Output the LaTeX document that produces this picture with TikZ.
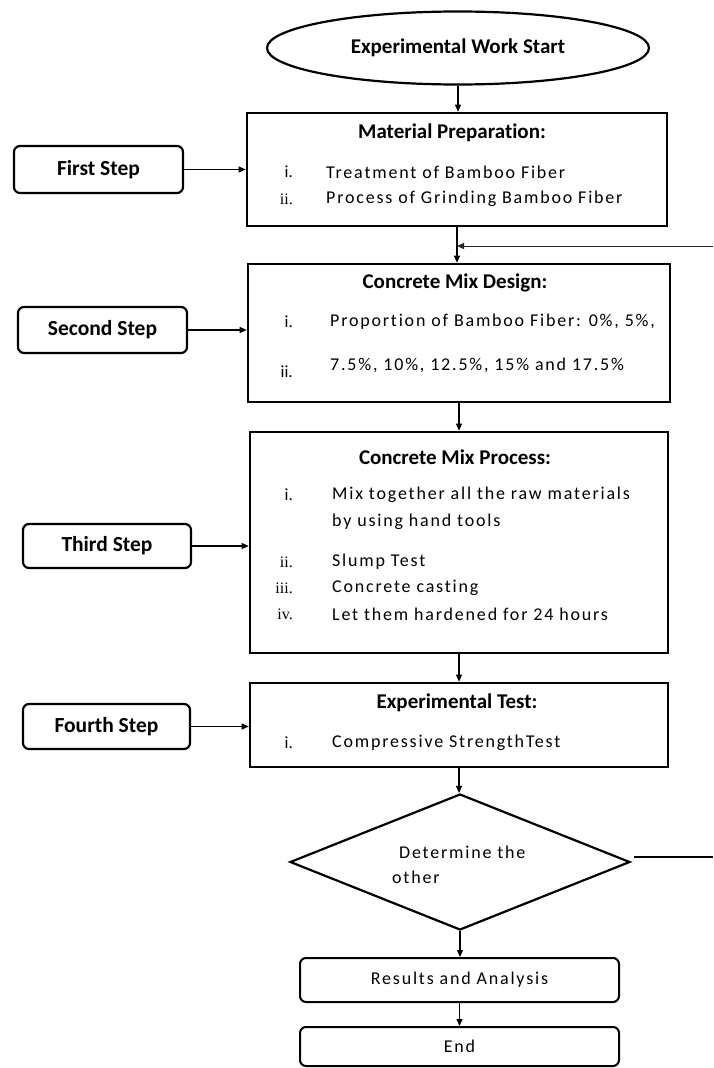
\documentclass[tikz,border=0pt]{standalone}
\usepackage{fontspec}
\setmainfont{Carlito}[Ligatures=NoCommon]
\newfontfamily\bodyfam{Carlito}[LetterSpace=10,Ligatures=NoCommon]
\newfontfamily\numserif{Liberation Serif}
\usetikzlibrary{shapes.geometric,arrows.meta}
\newcommand{\hsz}{\fontsize{21}{24}\selectfont\bfseries}
\newcommand{\ssz}{\fontsize{21.5}{24}\selectfont\bfseries}
\newcommand{\bsz}{\fontsize{18}{21}\bodyfam}
\tikzset{
  mainbox/.style={draw, line width=2.6pt, rectangle, inner sep=0pt},
  stepbox/.style={draw, line width=2.2pt, rounded corners=6pt, inner sep=0pt, font=\ssz},
  endbox/.style={draw, line width=2pt, rounded corners=6pt, inner sep=0pt, font=\bsz},
  arr/.style={-{Triangle[length=7pt,width=6pt]}, line width=1.1pt},
  head/.style={inner sep=0pt, font=\hsz},
  body/.style={inner sep=0pt, anchor=west, font=\bsz},
  num/.style={inner sep=0pt, anchor=east, font=\fontsize{17}{20}\selectfont},
  snum/.style={inner sep=0pt, anchor=east, font=\fontsize{16}{19}\numserif},
}
\begin{document}
\begin{tikzpicture}[x=1pt,y=-1pt]
\useasboundingbox (0,0) rectangle (713,1068);
% main column
\node[draw, ellipse, line width=2.2pt, inner sep=0pt, minimum width=382pt, minimum height=73pt, font=\hsz] (start) at (458,48) {Experimental Work Start};
\node[mainbox, minimum width=420pt, minimum height=113pt] (mat) at (457,169.5) {};
\node[mainbox, minimum width=422pt, minimum height=138pt] (design) at (459,333) {};
\node[mainbox, minimum width=418pt, minimum height=221pt] (process) at (459,542.5) {};
\node[mainbox, minimum width=418pt, minimum height=84pt] (test) at (459,725) {};
\node[draw, diamond, line width=2.2pt, inner sep=0pt, minimum width=340pt, minimum height=136pt] (dia) at (460,862) {};
\node[endbox, minimum width=319pt, minimum height=44pt] (results) at (459.5,980) {Results and Analysis};
\node[endbox, minimum width=319pt, minimum height=39pt] (end) at (459.5,1046.5) {End};
% step boxes
\node[stepbox, minimum width=169pt, minimum height=47pt] (s1) at (98.5,169.5) {First Step};
\node[stepbox, minimum width=169pt, minimum height=46pt] (s2) at (102.5,330) {Second Step};
\node[stepbox, minimum width=168pt, minimum height=44pt] (s3) at (107,546) {Third Step};
\node[stepbox, minimum width=167pt, minimum height=45pt] (s4) at (106.5,726.5) {Fourth Step};
% texts in material box
\node[head] (matH) at (452,133) {Material Preparation:};
\node[num] (matN1) at (293,172) {i.};
\node[body] (matT1) at (326,172) {Treatment of Bamboo Fiber};
\node[snum] (matN2) at (293,199) {ii.};
\node[body] (matT2) at (326,199) {Process of Grinding Bamboo Fiber};
% design box
\node[head] (desH) at (455,283) {Concrete Mix Design:};
\node[num] (desN1) at (293,322) {i.};
\node[body] (desT1) at (330,322) {Proportion of Bamboo Fiber: 0\%, 5\%,};
\node[num] (desN2) at (293,372) {ii.};
\node[body] (desT2) at (330,365) {7.5\%, 10\%, 12.5\%, 15\% and 17.5\%};
% process box
\node[head] (proH) at (455,457) {Concrete Mix Process:};
\node[num] (proN1) at (293,495) {i.};
\node[body] (proT1) at (332,495) {Mix together all the raw materials};
\node[body] (proT1b) at (332,522) {by using hand tools};
\node[snum] (proN2) at (293,562) {ii.};
\node[body] (proT2) at (332,562) {Slump Test};
\node[snum] (proN3) at (293,588) {iii.};
\node[body] (proT3) at (332,588) {Concrete casting};
\node[snum] (proN4) at (293,614) {iv.};
\node[body] (proT4) at (332,614) {Let them hardened for 24 hours};
% test box
\node[head] (tesH) at (457,703) {Experimental Test:};
\node[num] (tesN1) at (293,743) {i.};
\node[body] (tesT1) at (332,743) {Compressive StrengthTest};
% diamond text
\node[body] (diaT1) at (399,852) {Determine the};
\node[body] (diaT2) at (392,877) {other};
% feedback coordinates
\coordinate (fbR) at (713,246);
\coordinate (fbL) at (457,246);
\coordinate (diaR) at (713,857);
% connectors
\draw[arr] (start.south) -- (start.south |- mat.north);
\draw[arr] (mat.south) -- (mat.south |- design.north);
\draw[arr, line width=1pt, draw=black!85] (fbR) -- (fbL);
\draw[arr] (design.south) -- (design.south |- process.north);
\draw[arr] (process.south) -- (process.south |- test.north);
\draw[arr] (test.south) -- (test.south |- dia.north);
\draw[arr] (dia.south) -- (dia.south |- results.north);
\draw[arr] (results.south) -- (results.south |- end.north);
\draw[arr] (s1.east) -- (s1.east -| mat.west);
\draw[arr] (s2.east) -- (s2.east -| design.west);
\draw[arr] (s3.east) -- (s3.east -| process.west);
\draw[arr] (s4.east) -- (s4.east -| test.west);
\draw[line width=1.8pt] ([shift={(3,-5)}]dia.east) -- (diaR);
\end{tikzpicture}
\end{document}
